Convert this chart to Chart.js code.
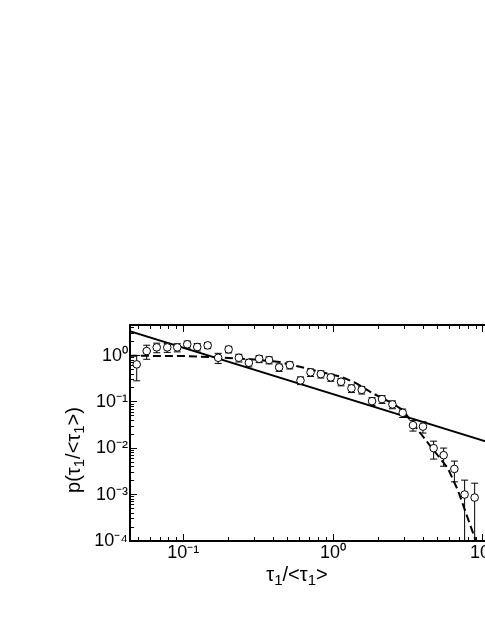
<!DOCTYPE html>
<html><head><meta charset="utf-8">
<script src="https://cdn.jsdelivr.net/npm/chart.js@4"></script>
<style>
html,body{margin:0;padding:0;overflow:hidden;background:#fff;width:485px;height:627px}
canvas{display:block}
</style></head>
<body>
<canvas id="c" width="540" height="627" style="width:540px;height:627px"></canvas>
<script>
// ---- data ----
const tau = [0.0489,0.0570,0.0665,0.0782,0.0912,0.1063,0.124,0.1455,0.171,0.2008,
             0.235,0.274,0.321,0.374,0.4365,0.514,0.606,0.707,0.828,0.965,
             1.13,1.326,1.553,1.82,2.122,2.489,2.915,3.415,3.98,4.69,
             5.47,6.45,7.55,8.81];
const prob = [0.645,1.25,1.50,1.50,1.50,1.75,1.53,1.66,0.896,1.36,
              0.896,0.699,0.853,0.80,0.556,0.624,0.291,0.434,0.398,0.338,
              0.272,0.196,0.182,0.104,0.115,0.0883,0.0582,0.0315,0.0293,0.01005,
              0.0071,0.00359,0.001005,0.000865];
const probErr = [0.36,0.42,0.35,0.33,0.30,0.30,0.28,0.25,0.22,0.22,
                 0.17,0.13,0.15,0.14,0.10,0.11,0.055,0.08,0.07,0.06,
                 0.05,0.037,0.034,0.02,0.022,0.017,0.012,0.008,0.008,0.0042,
                 0.003,0.0017,0.00105,0.0009];
const powerLawX = [0.03, 30];
const powerLawY = [4.9, 0.0049];
const fitX = [0.03,0.0441,0.1,0.176,0.3,0.441,0.6,0.815,1.138,1.432,
              1.84,2.5,2.93,3.42,4.41,5.84,6.81,8.15,8.94,9.5];
const fitY = [0.995,0.99,0.975,0.914,0.82,0.724,0.573,0.447,0.348,0.251,
              0.153,0.0928,0.066,0.034,0.0117,0.0037,0.00124,0.00024,0.000104,0.00004];
const xTickValues = [0.1, 1, 10];
const xTickText = ['10\u207B\u00B9','10\u2070','10\u00B9'];
const yTickValues = [1e-4, 1e-3, 1e-2, 1e-1, 1];
const yTickText = ['10\u207B\u2074','10\u207B\u00B3','10\u207B\u00B2','10\u207B\u00B9','10\u2070'];
const xTitleParts = [['\u03C4',0],['1',1],['/<\u03C4',0],['1',1],['>',0]];
const yTitleParts = [['p(\u03C4',0],['1',1],['/<\u03C4',0],['1',1],['>)',0]];

// ---- helpers ----
const FONT = '"Liberation Sans", Arial, sans-serif';
const isDecade = v => Math.abs(Math.log10(v) - Math.round(Math.log10(v))) < 1e-9;
const keepTicks = s => { s.ticks = s.ticks.filter(t => {
  const e = Math.floor(Math.log10(t.value) + 1e-9);
  const m = t.value / Math.pow(10, e);
  return Math.abs(m - Math.round(m)) < 1e-6;
}); };
const labelFrom = (vals, texts) => v => {
  for (let i = 0; i < vals.length; i++) if (Math.abs(v - vals[i]) / vals[i] < 1e-6) return texts[i];
  return '';
};

const errPts = [];
tau.forEach((x, i) => {
  const lo = prob[i] - probErr[i];
  errPts.push({x: x, y: lo > 0 ? lo : 1e-7});
  errPts.push({x: x, y: prob[i] + probErr[i]});
  errPts.push({x: x, y: null});
});

const titlePlugin = {
  id: 'titles',
  afterDraw(chart) {
    const ctx = chart.ctx;
    const big = 20, small = 15, shift = 4;
    const drawParts = (parts, cx, baseY) => {
      let w = 0;
      parts.forEach(p => { ctx.font = (p[1] ? small : big) + 'px ' + FONT; w += ctx.measureText(p[0]).width; });
      let x = cx - w / 2;
      parts.forEach(p => {
        ctx.font = (p[1] ? small : big) + 'px ' + FONT;
        ctx.fillText(p[0], x, baseY + (p[1] ? shift : 0));
        x += ctx.measureText(p[0]).width;
      });
    };
    ctx.save();
    ctx.fillStyle = '#000';
    ctx.textBaseline = 'alphabetic';
    ctx.textAlign = 'left';
    drawParts(xTitleParts, 297, 581);
    ctx.translate(80, 450);
    ctx.rotate(-Math.PI / 2);
    drawParts(yTitleParts, 0, 0);
    ctx.restore();
  }
};

const minorDashStartOut = ctx => isDecade(ctx.tick.value) ? [] : [5, 100];
const minorDashStartIn = ctx => isDecade(ctx.tick.value) ? [] : [5, 3];
const minorOffsetStartIn = ctx => isDecade(ctx.tick.value) ? 0 : 5;

new Chart(document.getElementById('c'), {
  type: 'line',
  data: {
    datasets: [
      { label: 'data', data: tau.map((x, i) => ({x: x, y: prob[i]})), showLine: false,
        pointStyle: 'circle', pointRadius: 3.8, pointBackgroundColor: '#fff',
        pointBorderColor: '#000', pointBorderWidth: 1, order: 0 },
      { label: 'err', data: errPts, showLine: true, spanGaps: false, borderColor: '#000',
        borderWidth: 1, pointStyle: 'line', pointRadius: 3.5, pointBorderColor: '#000',
        pointBorderWidth: 1, order: 1 },
      { label: 'fit', data: fitX.map((x, i) => ({x: x, y: fitY[i]})), borderColor: '#000',
        borderWidth: 2, borderDash: [8, 4], pointRadius: 0, tension: 0, order: 2 },
      { label: 'power', data: powerLawX.map((x, i) => ({x: x, y: powerLawY[i]})), borderColor: '#000',
        borderWidth: 2, pointRadius: 0, order: 3 }
    ]
  },
  options: {
    responsive: false, animation: false, events: [],
    layout: { padding: { top: 325, right: 12, left: 0, bottom: 0 } },
    plugins: { legend: { display: false }, tooltip: { enabled: false } },
    scales: {
      x: {
        type: 'logarithmic', position: 'bottom', min: 0.0441, max: 20,
        border: { display: true, color: '#000', width: 2 },
        grid: { drawOnChartArea: false, drawTicks: true, tickLength: -7, tickColor: '#000',
                tickWidth: 1, tickBorderDash: minorDashStartOut },
        ticks: { autoSkip: false, maxRotation: 0, padding: 8, color: '#000',
                 font: { family: FONT, size: 18 }, callback: labelFrom(xTickValues, xTickText) },
        afterBuildTicks: keepTicks,
        afterFit: s => { s.height = 86; }
      },
      xTop: {
        type: 'logarithmic', position: 'top', min: 0.0441, max: 20,
        border: { display: true, color: '#000', width: 2 },
        grid: { drawOnChartArea: false, drawTicks: true, tickLength: -7, tickColor: '#000',
                tickWidth: 1, tickBorderDash: minorDashStartIn, tickBorderDashOffset: minorOffsetStartIn },
        ticks: { display: false },
        afterBuildTicks: keepTicks,
        afterFit: s => { s.height = 0; }
      },
      y: {
        type: 'logarithmic', position: 'left', min: 1e-4, max: 4.56,
        border: { display: true, color: '#000', width: 2 },
        grid: { drawOnChartArea: false, drawTicks: true, tickLength: -7, tickColor: '#000',
                tickWidth: 1, tickBorderDash: minorDashStartIn, tickBorderDashOffset: minorOffsetStartIn },
        ticks: { autoSkip: false, padding: 9, color: '#000',
                 font: { family: FONT, size: 18 }, callback: labelFrom(yTickValues, yTickText) },
        afterBuildTicks: keepTicks,
        afterFit: s => { s.height = s.height; s.width = 130; }
      }
    }
  },
  plugins: [titlePlugin]
});
</script>
</body></html>
